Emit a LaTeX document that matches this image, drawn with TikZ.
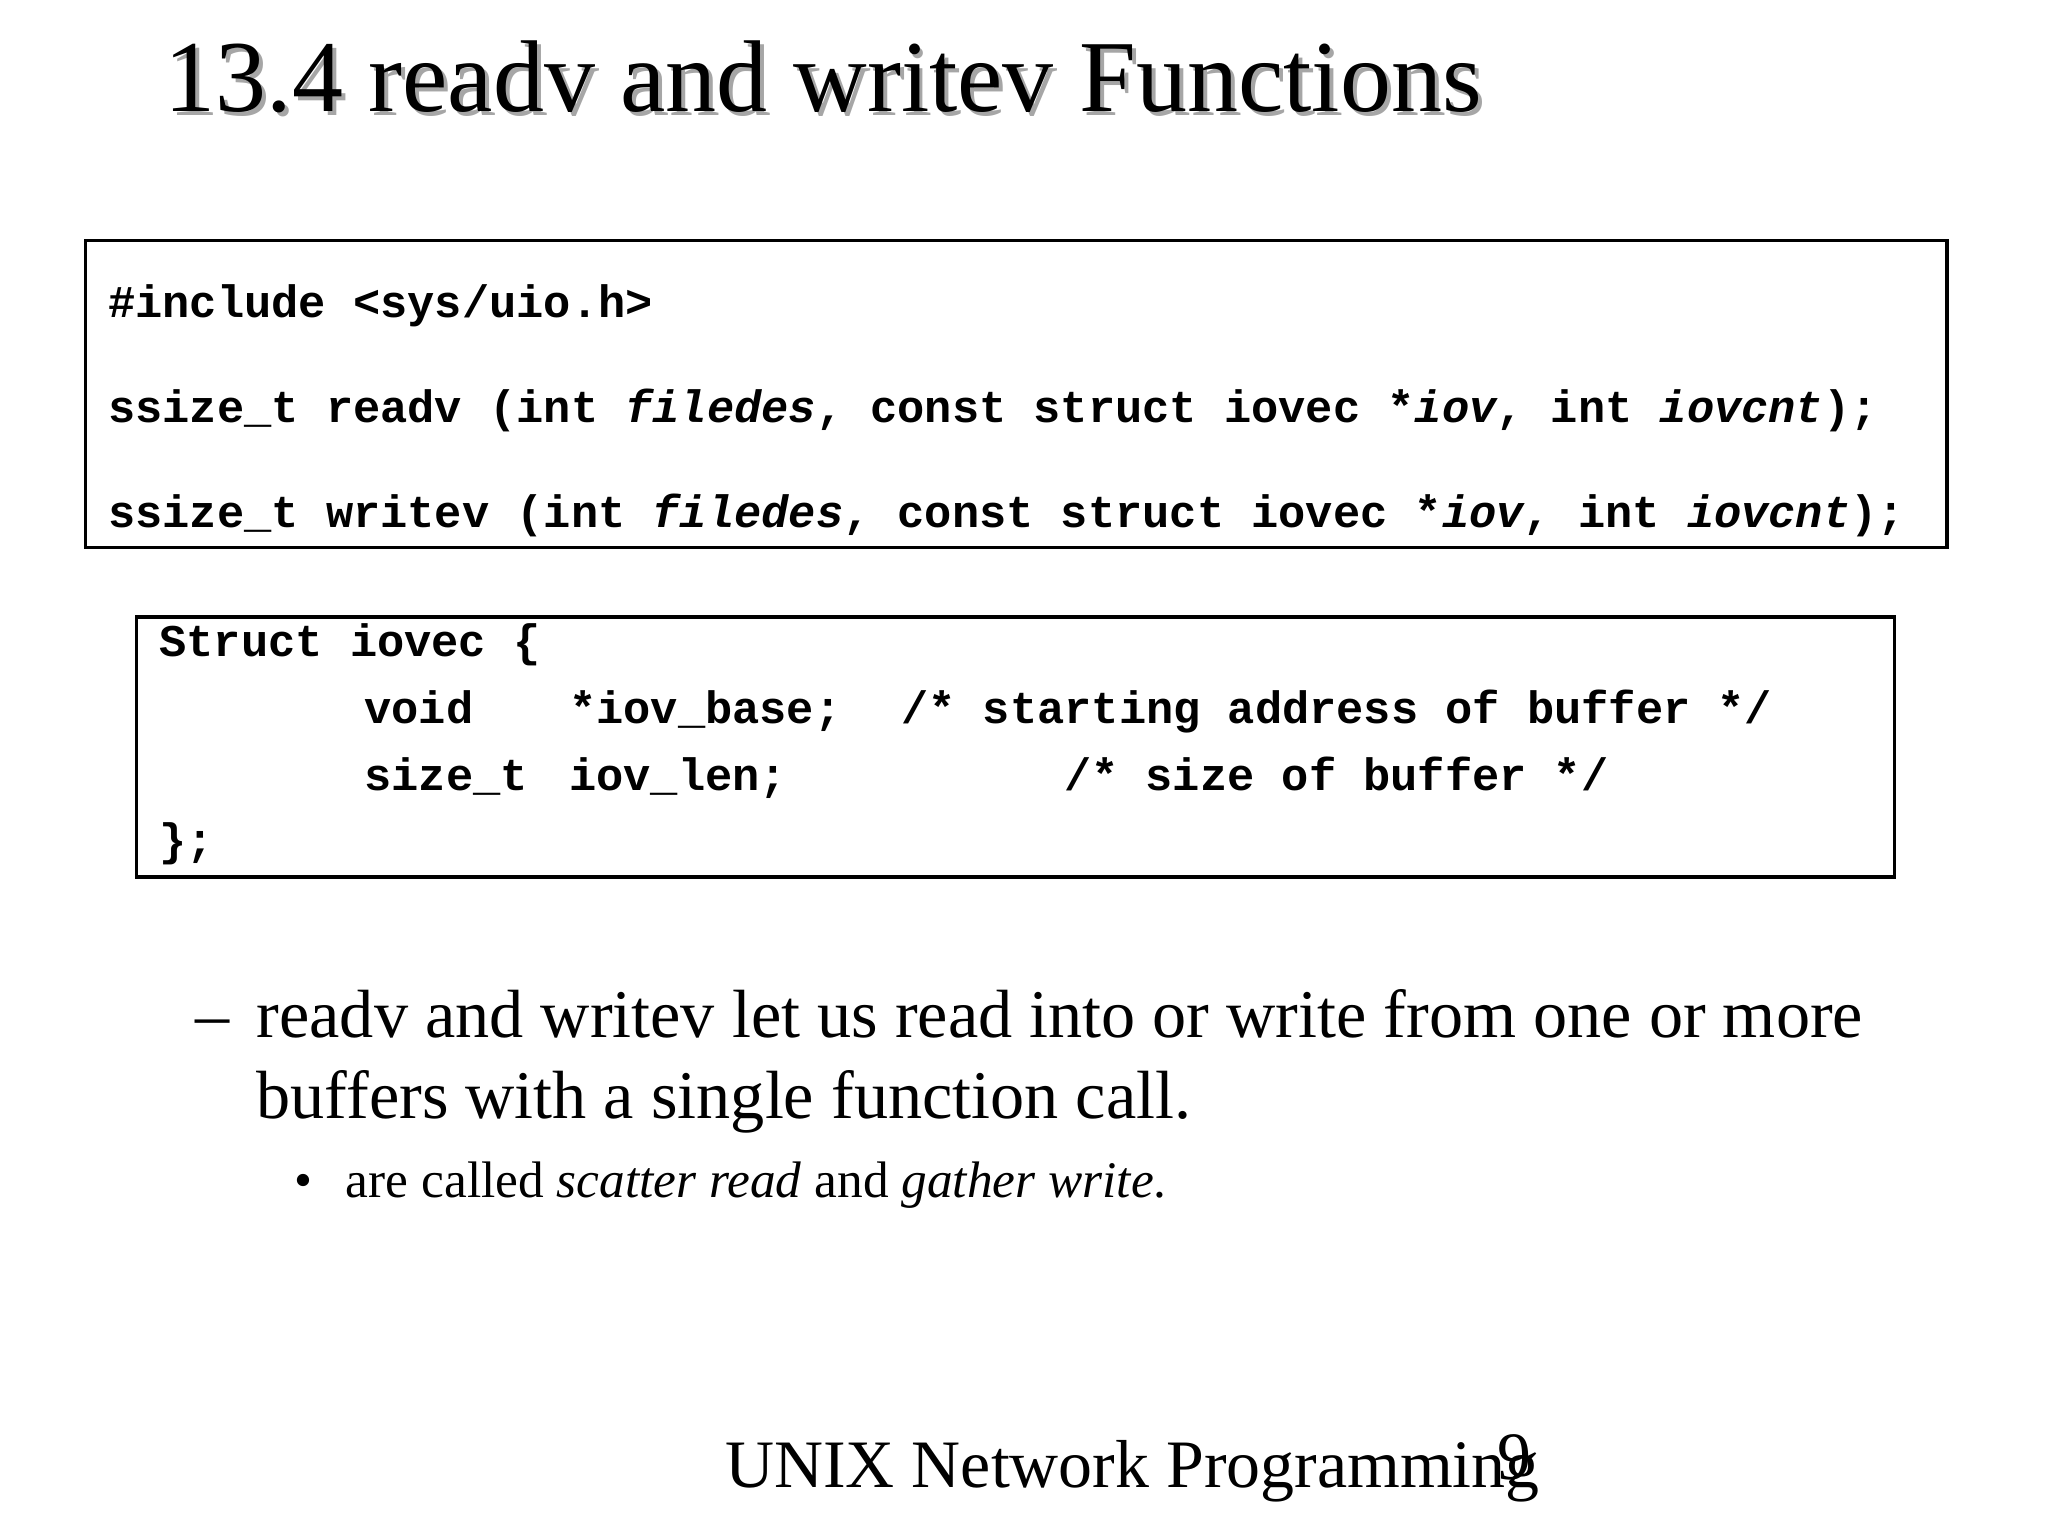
\documentclass[tikz,border=0pt]{standalone}
\usepackage{fontspec}
\setmainfont{Liberation Serif}
\setmonofont{Liberation Mono}
\begin{document}
\begin{tikzpicture}[x=0.01313cm,y=-0.01313cm,
  code/.style={anchor=base west,inner sep=0pt,font=\fontsize{12.9}{14}\selectfont\ttfamily\bfseries},
  boxst/.style={draw=black,line width=0.9pt}]
\useasboundingbox (0,0) rectangle (1560,1170);
\node[anchor=base west,inner sep=0pt,text=gray!70,font=\fontsize{29}{34}\selectfont] (ts) at (128,88) {13.4 readv and writev Functions};
\node[anchor=base west,inner sep=0pt,font=\fontsize{29}{34}\selectfont] (t) at (125,85) {13.4 readv and writev Functions};
\draw[boxst] (65,183) rectangle (1483,417);
\node[code] (l1) at (82,242) {\#include <sys/uio.h>};
\node[code] (l2) at (82,322) {ssize\_t readv (int \textit{filedes}, const struct iovec *\textit{iov}, int \textit{iovcnt});};
\node[code] (l3) at (82,402) {ssize\_t writev (int \textit{filedes}, const struct iovec *\textit{iov}, int \textit{iovcnt});};
\draw[boxst] (104,470) rectangle (1443,668);
\node[code] (s1) at (121,500) {Struct iovec \{};
\node[code] (s2) at (277,551) {void};
\node[code] (s3) at (433,551) {*iov\_base;};
\node[code] (s4) at (686,551) {/* starting address of buffer */};
\node[code] (s5) at (277,602) {size\_t};
\node[code] (s6) at (433,602) {iov\_len;};
\node[code] (s7) at (810,602) {/* size of buffer */};
\node[code] (s8) at (121,652) {\};};
\node[anchor=base west,inner sep=0pt,font=\fontsize{19.4}{24}\selectfont] (d) at (148,790) {–};
\node[anchor=base west,inner sep=0pt,font=\fontsize{19.4}{24}\selectfont] (b1) at (195,790) {readv and writev let us read into or write from one or more};
\node[anchor=base west,inner sep=0pt,font=\fontsize{19.4}{24}\selectfont] (b2) at (195,852) {buffers with a single function call.};
\node[anchor=base west,inner sep=0pt,font=\fontsize{14.6}{16}\selectfont] (bb) at (224,912) {•};
\node[anchor=base west,inner sep=0pt,font=\fontsize{14.6}{16}\selectfont] (c1) at (263,912) {are called \textit{scatter read} and \textit{gather write}.};
\node[anchor=base west,inner sep=0pt,font=\fontsize{19.3}{22}\selectfont] (f) at (552,1133) {UNIX Network Programming};
\node[anchor=base west,inner sep=0pt,font=\fontsize{19.3}{22}\selectfont] (n) at (1140,1127) {9};
\end{tikzpicture}
\end{document}
